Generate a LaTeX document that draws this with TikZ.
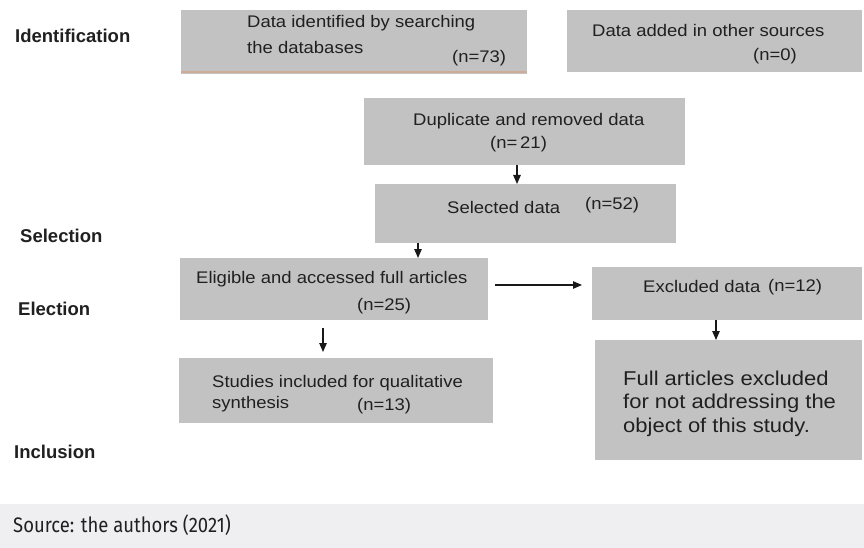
\documentclass[tikz,border=0pt]{standalone}
\usepackage{fontspec}
\setmainfont{Liberation Sans}
\newfontfamily\boxfont[FakeStretch=1.1]{Liberation Sans}
\newfontfamily\srcfont[FakeStretch=0.88]{Fira Sans}
\usetikzlibrary{arrows.meta,calc}
\definecolor{boxgray}{RGB}{194,194,194}
\definecolor{txt}{RGB}{32,32,32}
\definecolor{srcbg}{RGB}{239,239,241}
\definecolor{tan}{RGB}{205,172,152}
\begin{document}
\begin{tikzpicture}[x=1pt,y=-1pt,
  box/.style={fill=boxgray,draw=none,anchor=north west,inner sep=0pt},
  btxt/.style={anchor=base west,inner sep=0pt,text=txt,font=\boxfont\fontsize{16.8}{20}\selectfont},
  bigtxt/.style={anchor=base west,inner sep=0pt,text=txt,font=\boxfont\fontsize{20}{24}\selectfont},
  lbl/.style={anchor=base west,inner sep=0pt,text=txt,font=\bfseries\fontsize{18.5}{22}\selectfont},
  arr/.style={draw=black!90,line width=1.1pt,-{Triangle[length=9pt,width=7.5pt]}}]
\useasboundingbox (0,0) rectangle (864,548);
\fill[white] (0,0) rectangle (864,548);
% source bar
\fill[srcbg] (0,504) rectangle (864,548);
\node[anchor=base west,inner sep=0pt,text=txt,font=\srcfont\fontsize{21}{25}\selectfont] (src) at (13,532) {Source: the authors (2021)};
% stage labels
\node[lbl] (lid) at (15,43) {Identification};
\node[lbl] (lsel) at (20,242) {Selection};
\node[lbl] (lel) at (18,315) {Election};
\node[lbl] (linc) at (14,458) {Inclusion};
% boxes
\node[box,minimum width=346pt,minimum height=64pt] (b1) at (181,10) {};
\draw[tan,line width=2pt] ([yshift=2pt]b1.south west) -- ([yshift=2pt]b1.south east);
\node[box,minimum width=295pt,minimum height=62pt] (b2) at (567,10) {};
\node[box,minimum width=321pt,minimum height=67pt] (b3) at (364,98) {};
\node[box,minimum width=301pt,minimum height=59pt] (b4) at (375,184) {};
\node[box,minimum width=308pt,minimum height=62pt] (b5) at (180,258) {};
\node[box,minimum width=270pt,minimum height=53pt] (b6) at (592,267) {};
\node[box,minimum width=267pt,minimum height=120pt] (b7) at (595,340) {};
\node[box,minimum width=314pt,minimum height=65pt] (b8) at (179,358) {};
% texts
\node[btxt] (t1a) at (247,28) {Data identified by searching};
\node[btxt] (t1b) at (247,54) {the databases};
\node[btxt] (t1c) at (452,63) {(n=73)};
\node[btxt] (t2a) at (592,37) {Data added in other sources};
\node[btxt] (t2b) at (753,61) {(n=0)};
\node[btxt] (t3a) at (413,126) {Duplicate and removed data};
\node[btxt] (t3b) at (490,149) {(n=\,21)};
\node[btxt] (t4a) at (447,213) {Selected data};
\node[btxt] (t4b) at (585,209) {(n=52)};
\node[btxt] (t5a) at (196,283) {Eligible and accessed full articles};
\node[btxt] (t5b) at (357,310) {(n=25)};
\node[btxt] (t6a) at (643,292) {Excluded data};
\node[btxt] (t6b) at (768,291) {(n=12)};
\node[bigtxt] (t7a) at (623,385) {Full articles excluded};
\node[bigtxt] (t7b) at (623,408) {for not addressing the};
\node[bigtxt] (t7c) at (623,432) {object of this study.};
\node[btxt] (t8a) at (212,387) {Studies included for qualitative};
\node[btxt] (t8b) at (212,408) {synthesis};
\node[btxt] (t8c) at (357,410) {(n=13)};
% arrows
\coordinate (c1) at (517,0);
\coordinate (c2) at (418,0);
\coordinate (c3) at (0,285);
\coordinate (c4) at (323,0);
\coordinate (c5) at (716,0);
\draw[arr] (c1 |- b3.south) -- (c1 |- b4.north);
\draw[arr] (c2 |- b4.south) -- (c2 |- b5.north);
\draw[arr] ($(b5.east |- c3)+(7,0)$) -- ($(b6.west |- c3)+(-10,0)$);
\draw[arr] ($(c4 |- b5.south)+(0,8)$) -- ($(c4 |- b8.north)+(0,-6)$);
\draw[arr] (c5 |- b6.south) -- (c5 |- b7.north);
\end{tikzpicture}
\end{document}
